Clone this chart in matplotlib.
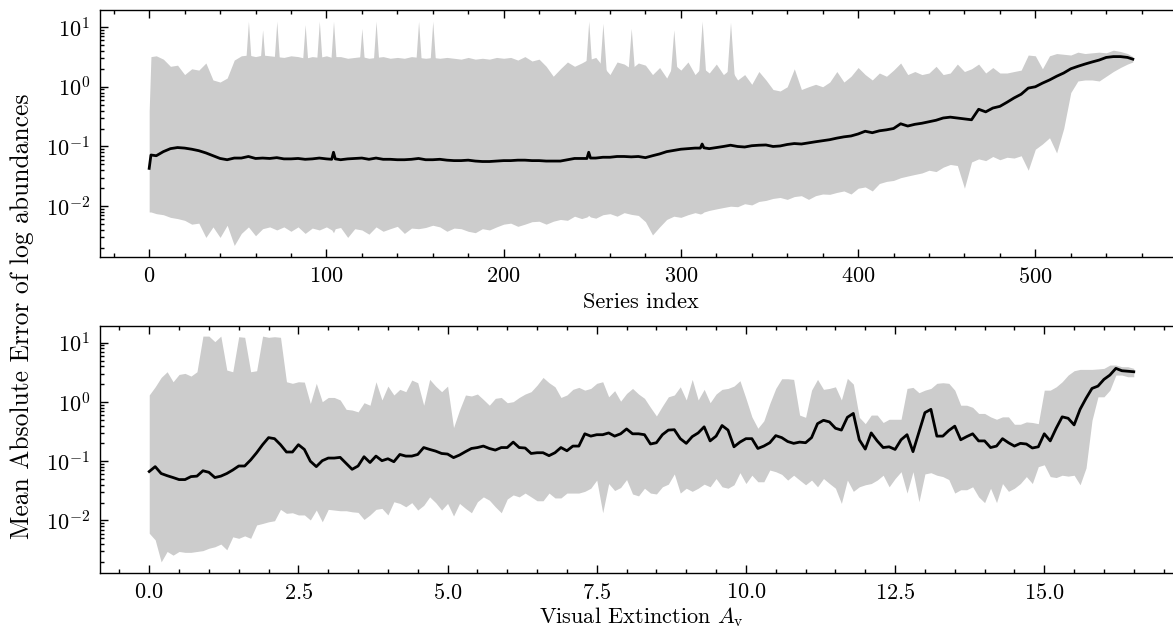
import numpy as np
import matplotlib
matplotlib.use("Agg")
import matplotlib.pyplot as plt
from matplotlib.ticker import AutoMinorLocator

# --- top panel: error per series index (band = min/max, line = mean) ---
top_idx = [0, 1, 4, 8, 12, 16, 20, 24, 28, 32,
           36, 40, 44, 48, 52, 56, 60, 64, 68, 72,
           76, 80, 84, 88, 92, 96, 100, 103, 104, 105,
           108, 112, 116, 120, 124, 128, 132, 136, 140, 144,
           148, 152, 156, 160, 164, 168, 172, 176, 180, 184,
           188, 192, 196, 200, 204, 208, 212, 216, 220, 224,
           228, 232, 236, 240, 244, 247, 248, 249, 252, 256,
           260, 264, 268, 272, 276, 280, 284, 288, 292, 296,
           300, 304, 308, 311, 312, 313, 316, 320, 324, 328,
           332, 336, 340, 344, 348, 352, 356, 360, 364, 368,
           372, 376, 380, 384, 388, 392, 396, 400, 404, 408,
           412, 416, 420, 424, 428, 432, 436, 440, 444, 448,
           452, 456, 460, 464, 468, 472, 476, 480, 484, 488,
           492, 496, 500, 504, 508, 512, 516, 520, 524, 528,
           532, 536, 540, 544, 548, 552, 555]
top_hi = [0.4, 3.2, 3.3, 2.9, 2.2, 2.3, 1.6, 2.0, 1.9, 2.5,
          1.3, 1.2, 1.4, 2.8, 3.3, 3.4, 3.2, 3.4, 3.3, 3.2,
          3.1, 3.3, 3.2, 3.0, 3.2, 3.1, 3.3, 3.1, 3.0, 3.2,
          3.2, 3.0, 3.1, 3.2, 3.0, 3.1, 3.2, 3.0, 3.1, 3.0,
          3.2, 3.1, 3.0, 3.1, 3.0, 3.1, 3.0, 2.9, 3.1, 2.9,
          3.0, 2.9, 3.1, 3.0, 3.1, 2.8, 3.2, 2.7, 2.9, 2.2,
          1.5, 2.0, 2.6, 2.2, 2.5, 2.8, 3.0, 2.9, 3.1, 2.2,
          1.6, 2.6, 2.4, 2.0, 2.5, 2.3, 1.6, 2.1, 1.4, 2.4,
          1.9, 2.6, 1.6, 2.0, 2.2, 2.0, 1.7, 2.4, 1.6, 2.0,
          1.3, 1.6, 1.1, 1.8, 1.3, 0.9, 0.85, 1.0, 2.0, 0.9,
          1.0, 1.1, 1.0, 1.2, 1.8, 1.2, 1.5, 2.1, 1.6, 1.3,
          1.7, 1.5, 1.9, 2.5, 1.6, 1.8, 1.6, 1.7, 2.2, 1.6,
          1.7, 2.4, 1.8, 2.0, 2.4, 1.7, 2.1, 1.7, 1.7, 1.8,
          1.9, 3.4, 3.3, 2.0, 3.3, 3.6, 3.5, 3.4, 3.8, 3.6,
          3.7, 3.8, 3.7, 4.1, 3.9, 3.6, 3.2]
top_mean = [0.043, 0.072, 0.070, 0.082, 0.092, 0.096, 0.094, 0.090, 0.085, 0.078,
            0.070, 0.063, 0.060, 0.064, 0.064, 0.068, 0.063, 0.064, 0.063, 0.065,
            0.062, 0.062, 0.063, 0.061, 0.062, 0.064, 0.062, 0.061, 0.080, 0.062,
            0.060, 0.062, 0.063, 0.064, 0.061, 0.064, 0.061, 0.061, 0.060, 0.060,
            0.061, 0.063, 0.060, 0.060, 0.061, 0.059, 0.058, 0.058, 0.059, 0.057,
            0.056, 0.056, 0.057, 0.058, 0.058, 0.059, 0.059, 0.058, 0.058, 0.057,
            0.057, 0.057, 0.060, 0.063, 0.063, 0.063, 0.080, 0.064, 0.064, 0.066,
            0.066, 0.068, 0.068, 0.067, 0.068, 0.065, 0.070, 0.075, 0.082, 0.086,
            0.090, 0.092, 0.094, 0.094, 0.110, 0.095, 0.092, 0.096, 0.100, 0.105,
            0.100, 0.098, 0.103, 0.105, 0.106, 0.100, 0.102, 0.108, 0.112, 0.110,
            0.115, 0.120, 0.125, 0.130, 0.138, 0.145, 0.150, 0.162, 0.180, 0.170,
            0.183, 0.190, 0.200, 0.240, 0.220, 0.235, 0.245, 0.260, 0.275, 0.300,
            0.310, 0.300, 0.290, 0.280, 0.420, 0.380, 0.440, 0.470, 0.550, 0.650,
            0.750, 0.950, 1.00, 1.15, 1.30, 1.50, 1.70, 2.00, 2.20, 2.40,
            2.60, 2.80, 3.10, 3.20, 3.20, 3.10, 2.90]
top_lo = [0.008, 0.008, 0.0075, 0.0072, 0.0065, 0.0062, 0.0058, 0.0050, 0.0052, 0.0030,
          0.0045, 0.0030, 0.0048, 0.0022, 0.0035, 0.0045, 0.0032, 0.0042, 0.0045, 0.0040,
          0.0045, 0.0038, 0.0045, 0.0035, 0.0043, 0.0040, 0.0045, 0.0040, 0.0036, 0.0042,
          0.0044, 0.0030, 0.0042, 0.0040, 0.0034, 0.0045, 0.0038, 0.0042, 0.0046, 0.0035,
          0.0043, 0.0042, 0.0044, 0.0048, 0.0045, 0.0038, 0.0043, 0.0042, 0.0038, 0.0036,
          0.0042, 0.0040, 0.0045, 0.0050, 0.0052, 0.0046, 0.0050, 0.0055, 0.0056, 0.0050,
          0.0056, 0.0060, 0.0058, 0.0068, 0.0062, 0.0066, 0.0070, 0.0066, 0.0063, 0.0072,
          0.0075, 0.0068, 0.0078, 0.0073, 0.0070, 0.0055, 0.0033, 0.0045, 0.0060, 0.0068,
          0.0065, 0.0072, 0.0078, 0.0074, 0.0076, 0.0080, 0.0085, 0.0090, 0.0095, 0.0100,
          0.0098, 0.0110, 0.0105, 0.0120, 0.0125, 0.0135, 0.0140, 0.0130, 0.0145, 0.0150,
          0.0130, 0.0150, 0.0160, 0.0158, 0.0170, 0.0180, 0.0160, 0.0200, 0.0210, 0.0180,
          0.024, 0.026, 0.027, 0.030, 0.032, 0.034, 0.036, 0.040, 0.038, 0.045,
          0.050, 0.048, 0.020, 0.055, 0.062, 0.058, 0.068, 0.060, 0.066, 0.064,
          0.070, 0.040, 0.090, 0.110, 0.140, 0.078, 0.200, 0.800, 1.25, 1.30,
          1.30, 1.25, 1.50, 1.80, 2.10, 2.40, 2.60]

# single-series outliers reaching far above the band
spike_idx = [56, 64, 72, 88, 96, 104, 120, 128, 152, 160,
             248, 256, 272, 296, 312, 328]
spike_top = [12.5, 9.0, 12.5, 11.0, 12.5, 12.5, 9.5, 12.5, 12.5, 12.5,
             12.5, 11.5, 9.5, 9.0, 12.5, 12.0]

# --- bottom panel: error binned by visual extinction, 0.0 .. 16.5 ---
av = np.arange(166) / 10
av_mean = [0.067, 0.081, 0.062, 0.057, 0.053, 0.049, 0.049, 0.055, 0.056, 0.069,
           0.065, 0.053, 0.056, 0.062, 0.071, 0.083, 0.083, 0.105, 0.139, 0.19,
           0.25, 0.24, 0.19, 0.143, 0.143, 0.19, 0.158, 0.10, 0.081, 0.102,
           0.113, 0.113, 0.116, 0.092, 0.073, 0.083, 0.119, 0.095, 0.122, 0.102,
           0.110, 0.098, 0.130, 0.122, 0.122, 0.130, 0.17, 0.158, 0.148, 0.135,
           0.132, 0.115, 0.127, 0.145, 0.164, 0.17, 0.18, 0.164, 0.154, 0.17,
           0.17, 0.21, 0.17, 0.167, 0.135, 0.139, 0.139, 0.124, 0.139, 0.17,
           0.15, 0.18, 0.18, 0.29, 0.265, 0.28, 0.28, 0.30, 0.265, 0.29,
           0.35, 0.29, 0.29, 0.28, 0.195, 0.205, 0.28, 0.335, 0.34, 0.24,
           0.20, 0.26, 0.30, 0.38, 0.22, 0.265, 0.40, 0.335, 0.175, 0.21,
           0.24, 0.24, 0.164, 0.18, 0.205, 0.27, 0.25, 0.215, 0.20, 0.21,
           0.205, 0.25, 0.43, 0.49, 0.46, 0.36, 0.335, 0.55, 0.64, 0.23,
           0.16, 0.30, 0.22, 0.17, 0.175, 0.158, 0.23, 0.28, 0.145, 0.31,
           0.66, 0.75, 0.265, 0.265, 0.33, 0.39, 0.23, 0.26, 0.29, 0.22,
           0.22, 0.17, 0.18, 0.24, 0.205, 0.18, 0.20, 0.195, 0.167, 0.175,
           0.29, 0.22, 0.36, 0.56, 0.53, 0.41, 0.75, 1.15, 1.69, 1.85,
           2.40, 2.84, 3.68, 3.36, 3.30, 3.23]
av_hi = [1.31, 1.80, 2.59, 3.23, 2.19, 2.91, 3.03, 2.73, 3.23, 12.9,
         12.9, 10.4, 12.9, 3.45, 3.23, 12.6, 12.3, 3.23, 3.36, 12.9,
         12.3, 12.6, 12.3, 2.19, 2.06, 2.19, 2.16, 0.94, 2.06, 1.01,
         1.19, 1.19, 1.08, 0.75, 0.73, 0.68, 0.97, 0.88, 2.19, 1.08,
         1.85, 1.31, 1.63, 1.49, 2.34, 2.11, 0.88, 2.40, 1.85, 1.49,
         1.85, 0.37, 0.73, 1.31, 1.26, 1.36, 1.10, 0.88, 1.15, 1.19,
         0.97, 1.01, 1.19, 1.36, 1.49, 1.92, 2.59, 2.11, 1.80, 1.19,
         1.31, 1.63, 1.76, 1.58, 1.69, 2.06, 2.19, 1.22, 1.55, 1.03,
         1.39, 1.69, 1.36, 1.15, 0.81, 0.58, 0.85, 1.22, 1.31, 1.80,
         1.08, 2.40, 1.08, 1.63, 0.97, 1.36, 1.63, 1.69, 1.85, 2.28,
         1.15, 0.56, 0.36, 0.48, 0.94, 1.69, 2.46, 2.46, 2.40, 0.60,
         0.55, 1.58, 2.40, 1.63, 1.69, 1.80, 1.08, 2.50, 2.00, 0.55,
         0.43, 0.60, 0.60, 0.45, 0.51, 0.51, 0.51, 1.69, 1.76, 1.43,
         1.58, 1.69, 2.06, 2.11, 2.06, 1.58, 0.88, 0.88, 0.81, 0.64,
         0.64, 0.56, 0.51, 0.56, 0.56, 0.42, 0.42, 0.46, 0.45, 0.43,
         1.58, 1.58, 1.80, 2.19, 2.84, 3.36, 3.54, 3.54, 3.54, 3.60,
         3.68, 4.19, 4.19, 3.93, 3.93, 3.68]
av_lo = [0.0061, 0.0047, 0.0020, 0.0030, 0.0026, 0.0030, 0.0029, 0.0029, 0.0030, 0.0031,
         0.0034, 0.0036, 0.0040, 0.0032, 0.0053, 0.0050, 0.0055, 0.0050, 0.0084, 0.0089,
         0.0095, 0.0099, 0.0154, 0.0132, 0.0135, 0.0124, 0.0124, 0.0102, 0.015, 0.0095,
         0.0154, 0.015, 0.0146, 0.0146, 0.014, 0.0137, 0.0104, 0.0124, 0.0154, 0.016,
         0.0124, 0.0207, 0.0194, 0.017, 0.020, 0.015, 0.018, 0.025, 0.020, 0.015,
         0.0194, 0.0119, 0.0194, 0.016, 0.0135, 0.0207, 0.025, 0.022, 0.017, 0.0135,
         0.023, 0.027, 0.025, 0.029, 0.025, 0.0215, 0.0215, 0.029, 0.024, 0.024,
         0.029, 0.029, 0.029, 0.031, 0.035, 0.048, 0.0135, 0.042, 0.032, 0.036,
         0.049, 0.028, 0.026, 0.035, 0.029, 0.028, 0.037, 0.041, 0.061, 0.029,
         0.035, 0.031, 0.035, 0.041, 0.037, 0.051, 0.037, 0.035, 0.040, 0.064,
         0.042, 0.058, 0.045, 0.045, 0.071, 0.0665, 0.060, 0.048, 0.058, 0.048,
         0.040, 0.048, 0.037, 0.051, 0.042, 0.035, 0.0194, 0.048, 0.031, 0.037,
         0.040, 0.042, 0.048, 0.058, 0.037, 0.051, 0.0665, 0.029, 0.0665, 0.0207,
         0.061, 0.064, 0.058, 0.055, 0.049, 0.029, 0.033, 0.033, 0.037, 0.025,
         0.020, 0.035, 0.020, 0.042, 0.031, 0.035, 0.042, 0.055, 0.042, 0.081,
         0.087, 0.055, 0.053, 0.058, 0.056, 0.058, 0.040, 0.077, 0.49, 1.22,
         1.22, 1.58, 2.84, 2.84, 2.66, 2.66]

plt.rcParams.update({
    "font.family": "serif",
    "font.serif": ["cmr10"],
    "mathtext.fontset": "cm",
    "axes.formatter.use_mathtext": True,
    "axes.unicode_minus": False,
    "font.size": 8,
    "axes.linewidth": 0.5,
    "axes.labelpad": 2.0,
    "lines.linewidth": 1.0,
    "xtick.direction": "in",
    "ytick.direction": "in",
    "xtick.top": True,
    "ytick.right": True,
    "xtick.minor.visible": True,
    "ytick.minor.visible": True,
    "xtick.major.size": 3,
    "ytick.major.size": 3,
    "xtick.minor.size": 1.5,
    "ytick.minor.size": 1.5,
    "xtick.major.width": 0.5,
    "ytick.major.width": 0.5,
    "xtick.minor.width": 0.5,
    "ytick.minor.width": 0.5,
})

band = "0.8"
W, H = 1173, 627
fig = plt.figure(figsize=(W / 200, H / 200), dpi=200)
ax1 = fig.add_axes([100 / W, (H - 257) / H, 1082 / W, 247 / H])
ax2 = fig.add_axes([100 / W, (H - 573) / H, 1083 / W, 247 / H])

ax1.fill_between(top_idx, top_lo, top_hi, color=band, lw=0)
for s, p in zip(spike_idx, spike_top):
    ax1.fill_between([s - 2.5, s, s + 2.5], 1.0, [1.0, p, 1.0], color=band, lw=0)
ax1.plot(top_idx, top_mean, color="k")
ax1.set_yscale("log")
ax1.set_xlim(-27.75, 582.75)
ax1.set_ylim(0.00141, 19.3)
ax1.set_xlabel("Series index")

ax2.fill_between(av, av_lo, av_hi, color=band, lw=0)
ax2.plot(av, av_mean, color="k")
ax2.set_yscale("log")
ax2.set_xlim(-0.825, 17.325)
ax2.set_ylim(0.0013, 19.1)
ax2.set_xticks([0, 2.5, 5, 7.5, 10, 12.5, 15])
ax2.set_xlabel(r"Visual Extinction $A_\mathrm{v}$", labelpad=1.0)

for ax in (ax1, ax2):
    ax.xaxis.set_minor_locator(AutoMinorLocator(5))
    ax.tick_params(which="both", top=True, right=True)

fig.text(22 / W, 1 - 316 / H, "Mean Absolute Error of log abundances",
         rotation=90, ha="center", va="center", fontsize=9.2)

fig.savefig("out.png", dpi=200)
